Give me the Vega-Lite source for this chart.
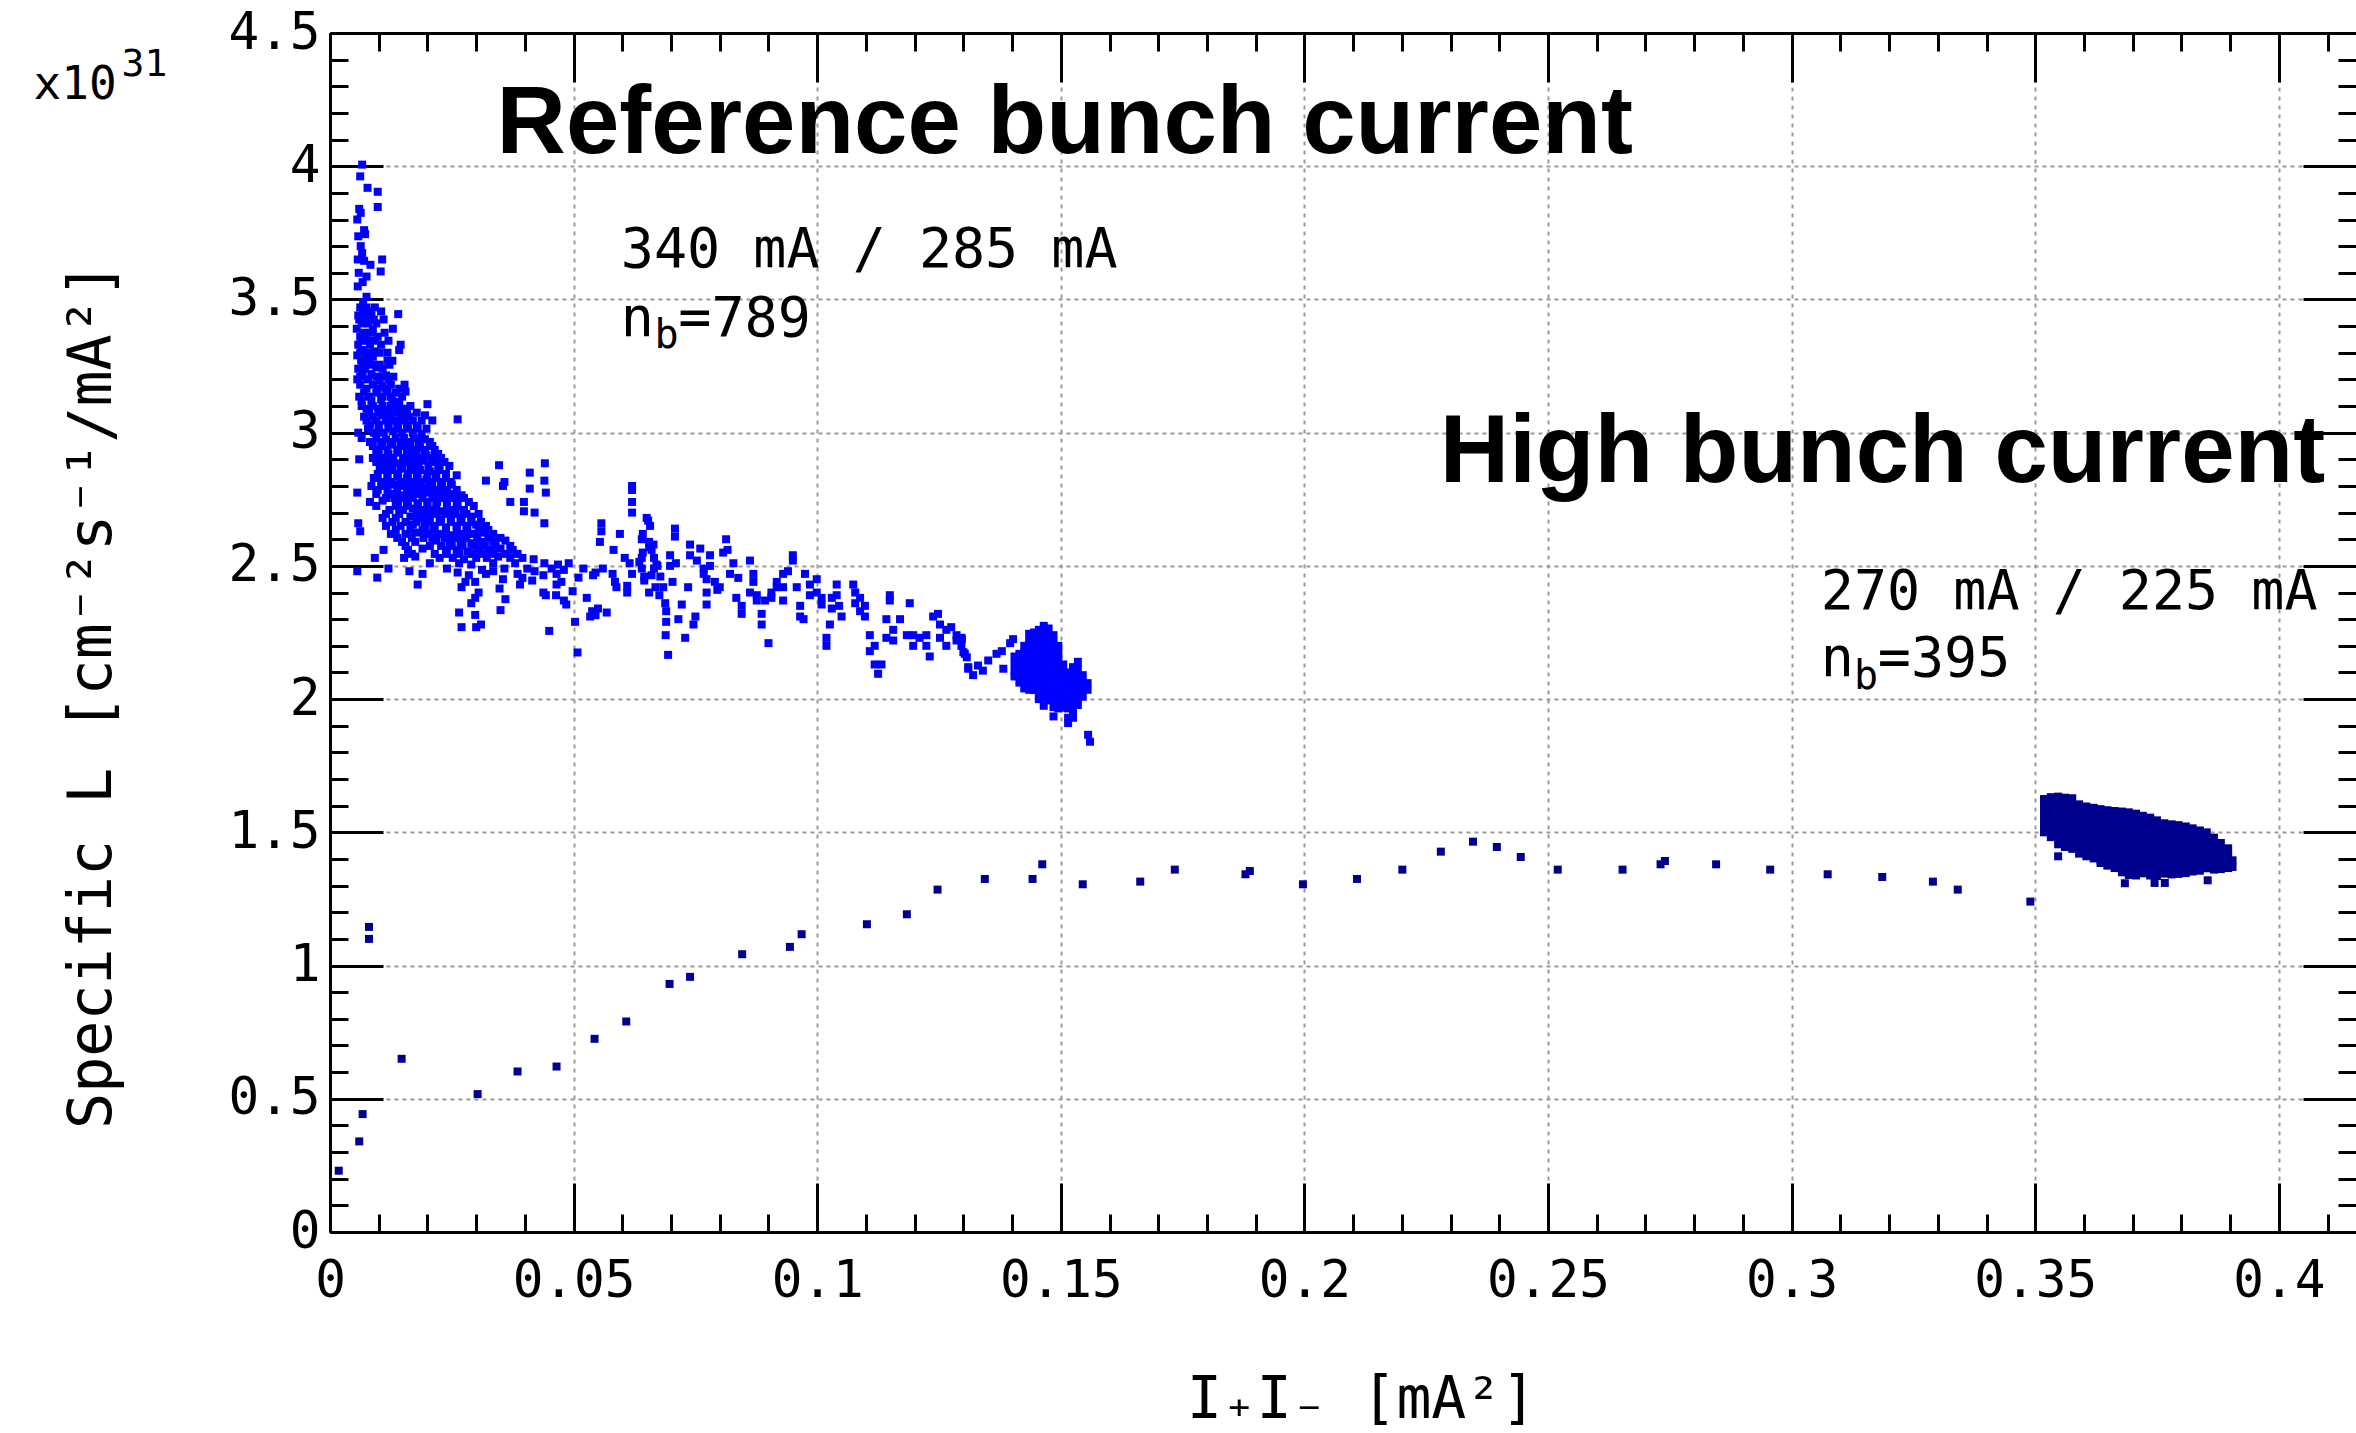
{
"$schema":"https://vega.github.io/schema/vega-lite/v6.json",
"width":2026,"height":1199,
"autosize":{"type":"none"},
"padding":{"left":330,"top":33,"right":0,"bottom":201},
"background":"white",
"config":{"view":{"stroke":null},"axis":{"labelFlush":false,"labelOverlap":false,"tickColor":"black","domainColor":"black","labelColor":"black","titleColor":"black","tickCap":"butt"}},
"resolve":{"scale":{"x":"shared","y":"shared"},"axis":{"x":"independent","y":"independent"}},
"datasets":{
"blue":[
{"x":0.0066,"y":4.006},{"x":0.0062,"y":3.962},{"x":0.0077,"y":3.919},{"x":0.0098,"y":3.904},{"x":0.0098,"y":3.847},{"x":0.006,"y":3.84},{"x":0.0063,"y":3.825},{"x":0.0056,"y":3.8},{"x":0.007,"y":3.76},{"x":0.0072,"y":3.745},{"x":0.0058,"y":3.737},{"x":0.0063,"y":3.7},{"x":0.0066,"y":3.674},{"x":0.0057,"y":3.65},{"x":0.007,"y":3.645},{"x":0.0083,"y":3.63},{"x":0.0107,"y":3.65},{"x":0.0104,"y":3.605},{"x":0.0059,"y":3.6},{"x":0.0075,"y":3.586},{"x":0.0057,"y":3.549},{"x":0.0067,"y":3.565},{"x":0.0075,"y":3.51},{"x":0.0068,"y":3.49},
{"x":0.0062,"y":3.47},{"x":0.0075,"y":3.47},{"x":0.0092,"y":3.47},
{"x":0.0058,"y":3.44},{"x":0.0068,"y":3.44},{"x":0.0085,"y":3.44},{"x":0.014,"y":3.445},
{"x":0.0065,"y":3.41},{"x":0.0078,"y":3.41},{"x":0.0095,"y":3.41},
{"x":0.0055,"y":3.39},{"x":0.0088,"y":3.385},{"x":0.0129,"y":3.39},
{"x":0.0062,"y":3.36},{"x":0.0072,"y":3.36},{"x":0.0098,"y":3.36},
{"x":0.0058,"y":3.33},{"x":0.0082,"y":3.33},{"x":0.0105,"y":3.33},{"x":0.0145,"y":3.33},
{"x":0.0066,"y":3.31},{"x":0.0092,"y":3.305},{"x":0.0142,"y":3.31},
{"x":0.0056,"y":3.29},{"x":0.0075,"y":3.29},{"x":0.0088,"y":3.285},
{"x":0.0064,"y":3.27},{"x":0.008,"y":3.265},{"x":0.0118,"y":3.27},{"x":0.0128,"y":3.27},
{"x":0.0058,"y":3.24},{"x":0.0072,"y":3.24},{"x":0.0095,"y":3.245},{"x":0.0108,"y":3.24},
{"x":0.0067,"y":3.22},{"x":0.0085,"y":3.22},{"x":0.0115,"y":3.215},
{"x":0.0056,"y":3.2},{"x":0.0078,"y":3.2},{"x":0.0102,"y":3.195},{"x":0.012,"y":3.2},
{"x":0.0062,"y":3.18},{"x":0.0088,"y":3.18},{"x":0.0108,"y":3.175},{"x":0.0125,"y":3.18},{"x":0.0153,"y":3.18},
{"x":0.007,"y":3.15},{"x":0.0095,"y":3.15},{"x":0.0118,"y":3.155},{"x":0.0135,"y":3.15},{"x":0.0155,"y":3.154},
{"x":0.0065,"y":3.12},{"x":0.0085,"y":3.12},{"x":0.0105,"y":3.125},{"x":0.0128,"y":3.12},{"x":0.0142,"y":3.115},
{"x":0.02,"y":3.107},
{"x":0.0075,"y":3.09},{"x":0.0098,"y":3.09},{"x":0.0115,"y":3.085},{"x":0.0132,"y":3.09},{"x":0.015,"y":3.09},
{"x":0.007,"y":3.06},{"x":0.0088,"y":3.06},{"x":0.0108,"y":3.065},{"x":0.0125,"y":3.06},{"x":0.0145,"y":3.06},{"x":0.0162,"y":3.06},{"x":0.0195,"y":3.065},
{"x":0.0262,"y":3.05},{"x":0.021,"y":3.046},
{"x":0.0082,"y":3.03},{"x":0.01,"y":3.03},{"x":0.012,"y":3.035},{"x":0.0138,"y":3.03},{"x":0.0158,"y":3.03},{"x":0.0178,"y":3.025},
{"x":0.0058,"y":3.0},{"x":0.009,"y":3.0},{"x":0.011,"y":3.0},{"x":0.013,"y":3.005},{"x":0.0148,"y":3.0},{"x":0.017,"y":3.0},{"x":0.0188,"y":2.995},
{"x":0.0065,"y":2.98},{"x":0.0095,"y":2.98},{"x":0.0115,"y":2.975},{"x":0.0135,"y":2.98},{"x":0.0152,"y":2.98},{"x":0.0172,"y":2.98},{"x":0.0195,"y":2.975},
{"x":0.0088,"y":2.95},{"x":0.0108,"y":2.95},{"x":0.0128,"y":2.955},{"x":0.0148,"y":2.95},{"x":0.0165,"y":2.95},{"x":0.0185,"y":2.945},{"x":0.021,"y":2.95},
{"x":0.01,"y":2.92},{"x":0.012,"y":2.92},{"x":0.014,"y":2.925},{"x":0.016,"y":2.92},{"x":0.0178,"y":2.92},{"x":0.0198,"y":2.915},{"x":0.0222,"y":2.92},
{"x":0.006,"y":2.9},
{"x":0.0095,"y":2.89},{"x":0.0115,"y":2.89},{"x":0.0135,"y":2.885},{"x":0.0155,"y":2.89},{"x":0.0175,"y":2.89},{"x":0.0192,"y":2.895},{"x":0.0215,"y":2.89},{"x":0.0235,"y":2.89},
{"x":0.0347,"y":2.878},{"x":0.0441,"y":2.885},
{"x":0.0108,"y":2.86},{"x":0.0128,"y":2.86},{"x":0.0148,"y":2.865},{"x":0.0168,"y":2.86},{"x":0.0185,"y":2.86},{"x":0.0205,"y":2.855},{"x":0.0225,"y":2.86},
{"x":0.041,"y":2.85},{"x":0.026,"y":2.84},
{"x":0.009,"y":2.83},{"x":0.0118,"y":2.83},{"x":0.0138,"y":2.835},{"x":0.0158,"y":2.83},{"x":0.0178,"y":2.83},{"x":0.0198,"y":2.825},{"x":0.0218,"y":2.83},{"x":0.0238,"y":2.83},
{"x":0.032,"y":2.82},{"x":0.0358,"y":2.815},{"x":0.044,"y":2.82},{"x":0.0355,"y":2.8},{"x":0.062,"y":2.8},
{"x":0.0085,"y":2.8},{"x":0.011,"y":2.8},{"x":0.013,"y":2.805},{"x":0.015,"y":2.8},{"x":0.017,"y":2.8},{"x":0.019,"y":2.795},{"x":0.021,"y":2.8},{"x":0.023,"y":2.8},{"x":0.025,"y":2.805},
{"x":0.041,"y":2.79},{"x":0.062,"y":2.785},{"x":0.0056,"y":2.775},{"x":0.0443,"y":2.775},
{"x":0.0095,"y":2.77},{"x":0.0125,"y":2.77},{"x":0.0145,"y":2.765},{"x":0.0165,"y":2.77},{"x":0.0185,"y":2.77},{"x":0.0205,"y":2.775},{"x":0.0225,"y":2.77},{"x":0.0245,"y":2.77},{"x":0.027,"y":2.765},
{"x":0.037,"y":2.74},{"x":0.0398,"y":2.74},{"x":0.062,"y":2.74},{"x":0.0082,"y":2.74},{"x":0.0108,"y":2.745},{"x":0.014,"y":2.74},{"x":0.016,"y":2.74},{"x":0.018,"y":2.735},{"x":0.02,"y":2.74},{"x":0.022,"y":2.74},{"x":0.024,"y":2.745},{"x":0.026,"y":2.74},{"x":0.0285,"y":2.74},
{"x":0.0122,"y":2.71},{"x":0.015,"y":2.71},{"x":0.017,"y":2.715},{"x":0.019,"y":2.71},{"x":0.021,"y":2.71},{"x":0.023,"y":2.705},{"x":0.025,"y":2.71},{"x":0.0275,"y":2.71},{"x":0.0398,"y":2.705},{"x":0.042,"y":2.7},{"x":0.062,"y":2.7},
{"x":0.0108,"y":2.68},{"x":0.0135,"y":2.68},{"x":0.0165,"y":2.685},{"x":0.0185,"y":2.68},{"x":0.0205,"y":2.68},{"x":0.0228,"y":2.675},{"x":0.0248,"y":2.68},{"x":0.0268,"y":2.68},{"x":0.029,"y":2.685},{"x":0.065,"y":2.68},
{"x":0.0058,"y":2.66},{"x":0.044,"y":2.66},{"x":0.0557,"y":2.66},{"x":0.0653,"y":2.67},
{"x":0.0115,"y":2.65},{"x":0.0145,"y":2.65},{"x":0.017,"y":2.655},{"x":0.0195,"y":2.65},{"x":0.0215,"y":2.65},{"x":0.0238,"y":2.645},{"x":0.026,"y":2.65},{"x":0.028,"y":2.65},{"x":0.03,"y":2.655},{"x":0.032,"y":2.65},
{"x":0.0062,"y":2.63},{"x":0.0557,"y":2.63},
{"x":0.0125,"y":2.62},{"x":0.0155,"y":2.62},{"x":0.018,"y":2.625},{"x":0.02,"y":2.62},{"x":0.0225,"y":2.62},{"x":0.025,"y":2.615},{"x":0.027,"y":2.62},{"x":0.0295,"y":2.62},{"x":0.0315,"y":2.625},{"x":0.0335,"y":2.62},{"x":0.0595,"y":2.62},
{"x":0.0148,"y":2.59},{"x":0.0175,"y":2.59},{"x":0.0218,"y":2.595},{"x":0.0245,"y":2.59},{"x":0.0268,"y":2.59},{"x":0.029,"y":2.585},{"x":0.031,"y":2.59},{"x":0.0335,"y":2.59},{"x":0.036,"y":2.595},{"x":0.0554,"y":2.59},{"x":0.0655,"y":2.59},
{"x":0.011,"y":2.56},{"x":0.016,"y":2.56},{"x":0.019,"y":2.565},{"x":0.0238,"y":2.56},{"x":0.026,"y":2.56},{"x":0.0282,"y":2.555},{"x":0.0305,"y":2.56},{"x":0.0328,"y":2.56},{"x":0.035,"y":2.565},{"x":0.0375,"y":2.56},{"x":0.0582,"y":2.56},{"x":0.066,"y":2.56},
{"x":0.0092,"y":2.53},{"x":0.0152,"y":2.53},{"x":0.0175,"y":2.535},{"x":0.0225,"y":2.53},{"x":0.0252,"y":2.53},{"x":0.0275,"y":2.525},{"x":0.03,"y":2.53},{"x":0.0322,"y":2.53},{"x":0.0345,"y":2.535},{"x":0.037,"y":2.53},{"x":0.0395,"y":2.53},{"x":0.0418,"y":2.525},{"x":0.0605,"y":2.53},{"x":0.0665,"y":2.53},
{"x":0.0205,"y":2.51},{"x":0.0265,"y":2.51},{"x":0.029,"y":2.505},{"x":0.0335,"y":2.51},{"x":0.038,"y":2.51},{"x":0.044,"y":2.51},{"x":0.0468,"y":2.505},{"x":0.049,"y":2.51},{"x":0.0615,"y":2.51},{"x":0.0635,"y":2.515},{"x":0.067,"y":2.505},
{"x":0.012,"y":2.49},{"x":0.024,"y":2.49},{"x":0.0312,"y":2.485},{"x":0.0358,"y":2.49},{"x":0.0405,"y":2.49},{"x":0.0455,"y":2.49},{"x":0.048,"y":2.485},{"x":0.052,"y":2.49},{"x":0.056,"y":2.49},{"x":0.064,"y":2.49},
{"x":0.0056,"y":2.48},{"x":0.0163,"y":2.48},{"x":0.0262,"y":2.475},{"x":0.0335,"y":2.48},{"x":0.042,"y":2.48},{"x":0.0545,"y":2.475},
{"x":0.019,"y":2.47},{"x":0.0285,"y":2.465},{"x":0.032,"y":2.47},{"x":0.0385,"y":2.47},{"x":0.0438,"y":2.465},{"x":0.0465,"y":2.47},{"x":0.054,"y":2.465},{"x":0.058,"y":2.47},{"x":0.062,"y":2.47},{"x":0.066,"y":2.465},
{"x":0.0097,"y":2.456},{"x":0.051,"y":2.456},{"x":0.0355,"y":2.45},{"x":0.0395,"y":2.455},
{"x":0.0278,"y":2.44},{"x":0.0298,"y":2.44},{"x":0.0415,"y":2.445},{"x":0.0475,"y":2.44},{"x":0.0585,"y":2.44},{"x":0.0645,"y":2.445},
{"x":0.018,"y":2.43},{"x":0.039,"y":2.43},{"x":0.0465,"y":2.43},{"x":0.061,"y":2.425},
{"x":0.027,"y":2.42},{"x":0.0348,"y":2.415},{"x":0.0588,"y":2.42},{"x":0.0668,"y":2.42},
{"x":0.0305,"y":2.4},{"x":0.0438,"y":2.4},{"x":0.061,"y":2.4},{"x":0.0655,"y":2.4},{"x":0.0498,"y":2.405},
{"x":0.0068,"y":3.455},{"x":0.0082,"y":3.455},{"x":0.0105,"y":3.455},
{"x":0.006,"y":3.425},{"x":0.0072,"y":3.425},{"x":0.009,"y":3.425},{"x":0.011,"y":3.425},
{"x":0.0068,"y":3.375},{"x":0.0082,"y":3.375},{"x":0.0112,"y":3.375},
{"x":0.0065,"y":3.345},{"x":0.0078,"y":3.345},{"x":0.009,"y":3.345},{"x":0.012,"y":3.345},
{"x":0.0062,"y":3.3},{"x":0.0082,"y":3.3},{"x":0.0102,"y":3.3},{"x":0.0118,"y":3.3},
{"x":0.0068,"y":3.255},{"x":0.0088,"y":3.255},{"x":0.0102,"y":3.255},{"x":0.0122,"y":3.255},
{"x":0.0062,"y":3.21},{"x":0.0095,"y":3.21},{"x":0.0108,"y":3.21},{"x":0.013,"y":3.21},
{"x":0.0075,"y":3.165},{"x":0.0098,"y":3.165},{"x":0.0115,"y":3.165},{"x":0.0142,"y":3.165},
{"x":0.006,"y":3.135},{"x":0.008,"y":3.135},{"x":0.0108,"y":3.135},{"x":0.0125,"y":3.135},{"x":0.0148,"y":3.135},
{"x":0.0065,"y":3.1},{"x":0.0088,"y":3.1},{"x":0.0108,"y":3.1},{"x":0.0125,"y":3.1},{"x":0.0142,"y":3.1},{"x":0.0165,"y":3.1},
{"x":0.008,"y":3.075},{"x":0.0102,"y":3.075},{"x":0.0122,"y":3.075},{"x":0.014,"y":3.075},{"x":0.0158,"y":3.075},{"x":0.0178,"y":3.075},
{"x":0.0075,"y":3.045},{"x":0.0095,"y":3.045},{"x":0.0115,"y":3.045},{"x":0.0135,"y":3.045},{"x":0.0152,"y":3.045},{"x":0.017,"y":3.045},{"x":0.0188,"y":3.045},
{"x":0.0078,"y":3.015},{"x":0.01,"y":3.015},{"x":0.012,"y":3.015},{"x":0.014,"y":3.015},{"x":0.016,"y":3.015},{"x":0.018,"y":3.015},{"x":0.0198,"y":3.015},
{"x":0.0082,"y":2.965},{"x":0.0105,"y":2.965},{"x":0.0125,"y":2.965},{"x":0.0145,"y":2.965},{"x":0.0162,"y":2.965},{"x":0.0182,"y":2.965},{"x":0.0205,"y":2.965},
{"x":0.0095,"y":2.935},{"x":0.0118,"y":2.935},{"x":0.0138,"y":2.935},{"x":0.0158,"y":2.935},{"x":0.0175,"y":2.935},{"x":0.0195,"y":2.935},{"x":0.0215,"y":2.935},
{"x":0.0088,"y":2.905},{"x":0.011,"y":2.905},{"x":0.013,"y":2.905},{"x":0.015,"y":2.905},{"x":0.017,"y":2.905},{"x":0.0188,"y":2.905},{"x":0.0208,"y":2.905},{"x":0.0228,"y":2.905},
{"x":0.0102,"y":2.875},{"x":0.0122,"y":2.875},{"x":0.0145,"y":2.875},{"x":0.0165,"y":2.875},{"x":0.0182,"y":2.875},{"x":0.0202,"y":2.875},{"x":0.0222,"y":2.875},{"x":0.0245,"y":2.875},
{"x":0.0098,"y":2.845},{"x":0.0118,"y":2.845},{"x":0.014,"y":2.845},{"x":0.016,"y":2.845},{"x":0.018,"y":2.845},{"x":0.02,"y":2.845},{"x":0.0218,"y":2.845},{"x":0.0238,"y":2.845},
{"x":0.0105,"y":2.815},{"x":0.0125,"y":2.815},{"x":0.0145,"y":2.815},{"x":0.0165,"y":2.815},{"x":0.0185,"y":2.815},{"x":0.0205,"y":2.815},{"x":0.0228,"y":2.815},{"x":0.0248,"y":2.815},
{"x":0.0098,"y":2.785},{"x":0.0118,"y":2.785},{"x":0.0138,"y":2.785},{"x":0.0158,"y":2.785},{"x":0.0178,"y":2.785},{"x":0.0198,"y":2.785},{"x":0.0218,"y":2.785},{"x":0.024,"y":2.785},{"x":0.026,"y":2.785},
{"x":0.0115,"y":2.755},{"x":0.0132,"y":2.755},{"x":0.0152,"y":2.755},{"x":0.017,"y":2.755},{"x":0.019,"y":2.755},{"x":0.021,"y":2.755},{"x":0.0232,"y":2.755},{"x":0.0255,"y":2.755},{"x":0.0275,"y":2.755},
{"x":0.0095,"y":2.725},{"x":0.0135,"y":2.725},{"x":0.0158,"y":2.725},{"x":0.018,"y":2.725},{"x":0.02,"y":2.725},{"x":0.0218,"y":2.725},{"x":0.024,"y":2.725},{"x":0.0262,"y":2.725},{"x":0.0295,"y":2.725},
{"x":0.0115,"y":2.695},{"x":0.0142,"y":2.695},{"x":0.0178,"y":2.695},{"x":0.0195,"y":2.695},{"x":0.0218,"y":2.695},{"x":0.0238,"y":2.695},{"x":0.0258,"y":2.695},{"x":0.028,"y":2.695},{"x":0.0305,"y":2.695},
{"x":0.0128,"y":2.665},{"x":0.0155,"y":2.665},{"x":0.0178,"y":2.665},{"x":0.02,"y":2.665},{"x":0.0225,"y":2.665},{"x":0.0248,"y":2.665},{"x":0.027,"y":2.665},{"x":0.029,"y":2.665},{"x":0.031,"y":2.665},
{"x":0.0135,"y":2.635},{"x":0.0165,"y":2.635},{"x":0.019,"y":2.635},{"x":0.0212,"y":2.635},{"x":0.0238,"y":2.635},{"x":0.026,"y":2.635},{"x":0.0282,"y":2.635},{"x":0.0305,"y":2.635},{"x":0.0325,"y":2.635},
{"x":0.0138,"y":2.605},{"x":0.0168,"y":2.605},{"x":0.0192,"y":2.605},{"x":0.021,"y":2.605},{"x":0.0235,"y":2.605},{"x":0.0258,"y":2.605},{"x":0.028,"y":2.605},{"x":0.0302,"y":2.605},{"x":0.0325,"y":2.605},{"x":0.035,"y":2.605},
{"x":0.0155,"y":2.575},{"x":0.0205,"y":2.575},{"x":0.0228,"y":2.575},{"x":0.025,"y":2.575},{"x":0.0272,"y":2.575},{"x":0.0295,"y":2.575},{"x":0.0318,"y":2.575},{"x":0.034,"y":2.575},{"x":0.037,"y":2.575},
{"x":0.0168,"y":2.545},{"x":0.0215,"y":2.545},{"x":0.024,"y":2.545},{"x":0.0265,"y":2.545},{"x":0.029,"y":2.545},{"x":0.0312,"y":2.545},{"x":0.0335,"y":2.545},{"x":0.036,"y":2.545},{"x":0.0385,"y":2.545},
{"x":0.029,"y":2.36},{"x":0.0298,"y":2.38},{"x":0.0265,"y":2.325},{"x":0.0298,"y":2.316},{"x":0.027,"y":2.27},{"x":0.03,"y":2.27},{"x":0.031,"y":2.28},{"x":0.035,"y":2.334},{"x":0.036,"y":2.375},{"x":0.045,"y":2.256},{"x":0.0443,"y":2.39},{"x":0.0464,"y":2.39},{"x":0.048,"y":2.37},{"x":0.0485,"y":2.355},{"x":0.0503,"y":2.29},{"x":0.0508,"y":2.175},{"x":0.0527,"y":2.38},{"x":0.0534,"y":2.31},{"x":0.0538,"y":2.33},{"x":0.055,"y":2.34},{"x":0.0568,"y":2.325},{"x":0.0545,"y":2.315},
{"x":0.064,"y":2.6},{"x":0.0655,"y":2.57},{"x":0.064,"y":2.53},{"x":0.0665,"y":2.49},{"x":0.0645,"y":2.46},
{"x":0.0657,"y":2.65},{"x":0.0664,"y":2.58},{"x":0.0642,"y":2.62},{"x":0.0642,"y":2.55},{"x":0.0672,"y":2.5},{"x":0.0678,"y":2.46},{"x":0.0684,"y":2.42},{"x":0.0676,"y":2.39},{"x":0.0688,"y":2.36},{"x":0.069,"y":2.33},{"x":0.069,"y":2.29},{"x":0.0689,"y":2.24},{"x":0.0694,"y":2.166},{"x":0.0698,"y":2.54},{"x":0.0698,"y":2.5},{"x":0.0708,"y":2.64},{"x":0.0708,"y":2.61},{"x":0.071,"y":2.51},{"x":0.0703,"y":2.44},{"x":0.0722,"y":2.355},{"x":0.0715,"y":2.3},{"x":0.0729,"y":2.23},{"x":0.0746,"y":2.28},{"x":0.075,"y":2.31},{"x":0.0739,"y":2.58},{"x":0.0739,"y":2.54},{"x":0.0735,"y":2.42},{"x":0.0753,"y":2.52},{"x":0.076,"y":2.565},{"x":0.0767,"y":2.49},{"x":0.0767,"y":2.47},{"x":0.078,"y":2.54},{"x":0.078,"y":2.5},{"x":0.0773,"y":2.45},{"x":0.0773,"y":2.4},{"x":0.0773,"y":2.355},{"x":0.079,"y":2.44},{"x":0.0795,"y":2.41},{"x":0.08,"y":2.42},{"x":0.0813,"y":2.6},{"x":0.0807,"y":2.55},{"x":0.0816,"y":2.56},{"x":0.0828,"y":2.51},{"x":0.0821,"y":2.47},{"x":0.0838,"y":2.455},{"x":0.0834,"y":2.38},{"x":0.0845,"y":2.35},{"x":0.0845,"y":2.32},{"x":0.0862,"y":2.52},{"x":0.0869,"y":2.47},{"x":0.0869,"y":2.44},{"x":0.0862,"y":2.4},{"x":0.0876,"y":2.39},{"x":0.0876,"y":2.37},{"x":0.0886,"y":2.32},{"x":0.0886,"y":2.28},{"x":0.09,"y":2.21},{"x":0.0893,"y":2.37},{"x":0.0906,"y":2.38},{"x":0.0906,"y":2.4},{"x":0.0917,"y":2.44},{"x":0.0917,"y":2.42},{"x":0.093,"y":2.47},{"x":0.093,"y":2.42},{"x":0.093,"y":2.37},{"x":0.094,"y":2.48},{"x":0.095,"y":2.54},{"x":0.095,"y":2.52},{"x":0.0958,"y":2.42},{"x":0.0965,"y":2.35},{"x":0.0965,"y":2.31},{"x":0.0972,"y":2.3},{"x":0.0975,"y":2.47},{"x":0.0985,"y":2.43},{"x":0.0985,"y":2.39},{"x":0.0999,"y":2.45},{"x":0.0999,"y":2.4},{"x":0.1009,"y":2.38},{"x":0.1009,"y":2.355},{"x":0.1019,"y":2.23},{"x":0.1019,"y":2.2},{"x":0.1026,"y":2.28},{"x":0.103,"y":2.38},{"x":0.103,"y":2.34},{"x":0.104,"y":2.43},{"x":0.104,"y":2.39},{"x":0.1045,"y":2.35},{"x":0.105,"y":2.31},{"x":0.1074,"y":2.43},{"x":0.1078,"y":2.4},{"x":0.1078,"y":2.36},{"x":0.1088,"y":2.38},{"x":0.1088,"y":2.33},{"x":0.1098,"y":2.35},{"x":0.1098,"y":2.31},{"x":0.1108,"y":2.24},{"x":0.1108,"y":2.18},{"x":0.1118,"y":2.2},{"x":0.1118,"y":2.13},{"x":0.1125,"y":2.095},{"x":0.1132,"y":2.13},{"x":0.1142,"y":2.23},{"x":0.1149,"y":2.39},{"x":0.1149,"y":2.37},{"x":0.1142,"y":2.3},{"x":0.1156,"y":2.26},{"x":0.1156,"y":2.22},{"x":0.117,"y":2.3},{"x":0.1184,"y":2.24},{"x":0.119,"y":2.36},{"x":0.1197,"y":2.24},{"x":0.1197,"y":2.2},{"x":0.121,"y":2.23},{"x":0.1224,"y":2.24},{"x":0.1224,"y":2.2},{"x":0.1231,"y":2.16},{"x":0.1238,"y":2.31},{"x":0.1248,"y":2.32},{"x":0.1252,"y":2.28},{"x":0.1252,"y":2.23},{"x":0.1265,"y":2.26},{"x":0.1265,"y":2.2},{"x":0.1275,"y":2.27},{"x":0.1286,"y":2.24},{"x":0.1286,"y":2.22},{"x":0.1296,"y":2.23},{"x":0.1296,"y":2.2},{"x":0.1303,"y":2.17},{"x":0.131,"y":2.12},
{"x":0.1297,"y":2.225},{"x":0.13,"y":2.176},{"x":0.1307,"y":2.157},{"x":0.131,"y":2.114},{"x":0.132,"y":2.09},{"x":0.133,"y":2.126},{"x":0.134,"y":2.107},{"x":0.1351,"y":2.145},{"x":0.1368,"y":2.17},{"x":0.1382,"y":2.114},{"x":0.1379,"y":2.18},{"x":0.1396,"y":2.21},{"x":0.1402,"y":2.225},
{"x":0.1405,"y":2.16},{"x":0.1405,"y":2.133},{"x":0.1405,"y":2.106},{"x":0.1405,"y":2.085},
{"x":0.1415,"y":2.17},{"x":0.1415,"y":2.143},{"x":0.1415,"y":2.116},{"x":0.1415,"y":2.089},{"x":0.1415,"y":2.062},
{"x":0.1425,"y":2.2},{"x":0.1425,"y":2.173},{"x":0.1425,"y":2.146},{"x":0.1425,"y":2.119},{"x":0.1425,"y":2.092},{"x":0.1425,"y":2.065},{"x":0.1425,"y":2.04},
{"x":0.1435,"y":2.245},{"x":0.1435,"y":2.218},{"x":0.1435,"y":2.191},{"x":0.1435,"y":2.164},{"x":0.1435,"y":2.137},{"x":0.1435,"y":2.11},{"x":0.1435,"y":2.083},{"x":0.1435,"y":2.056},{"x":0.1435,"y":2.035},
{"x":0.1445,"y":2.25},{"x":0.1445,"y":2.223},{"x":0.1445,"y":2.196},{"x":0.1445,"y":2.169},{"x":0.1445,"y":2.142},{"x":0.1445,"y":2.115},{"x":0.1445,"y":2.088},{"x":0.1445,"y":2.061},{"x":0.1445,"y":2.034},
{"x":0.1455,"y":2.26},{"x":0.1455,"y":2.233},{"x":0.1455,"y":2.206},{"x":0.1455,"y":2.179},{"x":0.1455,"y":2.152},{"x":0.1455,"y":2.125},{"x":0.1455,"y":2.098},{"x":0.1455,"y":2.071},{"x":0.1455,"y":2.044},{"x":0.1455,"y":2.017},{"x":0.1455,"y":2.0},
{"x":0.1465,"y":2.275},{"x":0.1465,"y":2.248},{"x":0.1465,"y":2.221},{"x":0.1465,"y":2.194},{"x":0.1465,"y":2.167},{"x":0.1465,"y":2.14},{"x":0.1465,"y":2.113},{"x":0.1465,"y":2.086},{"x":0.1465,"y":2.059},{"x":0.1465,"y":2.032},{"x":0.1465,"y":2.005},{"x":0.1465,"y":1.975},
{"x":0.1475,"y":2.265},{"x":0.1475,"y":2.238},{"x":0.1475,"y":2.211},{"x":0.1475,"y":2.184},{"x":0.1475,"y":2.157},{"x":0.1475,"y":2.13},{"x":0.1475,"y":2.103},{"x":0.1475,"y":2.076},{"x":0.1475,"y":2.049},{"x":0.1475,"y":2.022},{"x":0.1475,"y":1.995},
{"x":0.1485,"y":2.24},{"x":0.1485,"y":2.213},{"x":0.1485,"y":2.186},{"x":0.1485,"y":2.159},{"x":0.1485,"y":2.132},{"x":0.1485,"y":2.105},{"x":0.1485,"y":2.078},{"x":0.1485,"y":2.051},{"x":0.1485,"y":2.024},{"x":0.1485,"y":1.997},{"x":0.1485,"y":1.97},{"x":0.1485,"y":1.935},
{"x":0.1495,"y":2.2},{"x":0.1495,"y":2.173},{"x":0.1495,"y":2.146},{"x":0.1495,"y":2.119},{"x":0.1495,"y":2.092},{"x":0.1495,"y":2.065},{"x":0.1495,"y":2.038},{"x":0.1495,"y":2.011},{"x":0.1495,"y":1.984},{"x":0.1495,"y":1.965},
{"x":0.1505,"y":2.13},{"x":0.1505,"y":2.103},{"x":0.1505,"y":2.076},{"x":0.1505,"y":2.049},{"x":0.1505,"y":2.022},{"x":0.1505,"y":1.995},{"x":0.1505,"y":1.968},
{"x":0.1515,"y":2.1},{"x":0.1515,"y":2.073},{"x":0.1515,"y":2.046},{"x":0.1515,"y":2.019},{"x":0.1515,"y":1.992},{"x":0.1515,"y":1.965},{"x":0.1515,"y":1.93},{"x":0.1515,"y":1.91},
{"x":0.1525,"y":2.12},{"x":0.1525,"y":2.093},{"x":0.1525,"y":2.066},{"x":0.1525,"y":2.039},{"x":0.1525,"y":2.012},{"x":0.1525,"y":1.985},{"x":0.1525,"y":1.958},{"x":0.1525,"y":1.93},
{"x":0.1535,"y":2.14},{"x":0.1535,"y":2.113},{"x":0.1535,"y":2.086},{"x":0.1535,"y":2.059},{"x":0.1535,"y":2.032},{"x":0.1535,"y":2.005},{"x":0.1535,"y":1.978},
{"x":0.1545,"y":2.09},{"x":0.1545,"y":2.063},{"x":0.1545,"y":2.036},{"x":0.1545,"y":2.009},
{"x":0.1555,"y":2.06},{"x":0.1555,"y":2.035},{"x":0.1556,"y":1.866},{"x":0.156,"y":1.84}
],
"navy":[
{"x":0.0018,"y":0.23},{"x":0.006,"y":0.34},{"x":0.0067,"y":0.4425},{"x":0.008,"y":1.1},{"x":0.008,"y":1.145},{"x":0.0147,"y":0.65},{"x":0.0303,"y":0.5175},{"x":0.0385,"y":0.6025},{"x":0.0465,"y":0.621},{"x":0.0543,"y":0.725},{"x":0.0608,"y":0.79},{"x":0.0697,"y":0.931},{"x":0.0739,"y":0.9575},{"x":0.0846,"y":1.0425},{"x":0.0944,"y":1.07},{"x":0.0968,"y":1.1175},{"x":0.1102,"y":1.155},{"x":0.1184,"y":1.1925},{"x":0.1247,"y":1.285},{"x":0.1344,"y":1.325},{"x":0.1442,"y":1.325},{"x":0.1462,"y":1.38},{"x":0.1545,"y":1.305},{"x":0.1663,"y":1.315},{"x":0.1734,"y":1.36},{"x":0.1879,"y":1.3425},{"x":0.1888,"y":1.355},{"x":0.1997,"y":1.305},{"x":0.2108,"y":1.325},{"x":0.2201,"y":1.36},{"x":0.228,"y":1.4275},{"x":0.2346,"y":1.465},{"x":0.2395,"y":1.445},{"x":0.2444,"y":1.4075},{"x":0.252,"y":1.36},{"x":0.2653,"y":1.36},{"x":0.2731,"y":1.38},{"x":0.274,"y":1.3925},{"x":0.2845,"y":1.38},{"x":0.2956,"y":1.36},{"x":0.3074,"y":1.3425},{"x":0.3186,"y":1.3325},{"x":0.329,"y":1.315},{"x":0.3341,"y":1.285},{"x":0.349,"y":1.24},
{"x":0.3518,"y":1.625},{"x":0.3518,"y":1.598},{"x":0.3518,"y":1.572},{"x":0.3518,"y":1.545},{"x":0.3518,"y":1.52},{"x":0.3518,"y":1.5},
{"x":0.3532,"y":1.632},{"x":0.3532,"y":1.605},{"x":0.3532,"y":1.578},{"x":0.3532,"y":1.55},{"x":0.3532,"y":1.524},{"x":0.3532,"y":1.497},{"x":0.3532,"y":1.482},
{"x":0.3547,"y":1.634},{"x":0.3547,"y":1.607},{"x":0.3547,"y":1.58},{"x":0.3547,"y":1.553},{"x":0.3547,"y":1.527},{"x":0.3547,"y":1.5},{"x":0.3547,"y":1.472},{"x":0.3547,"y":1.455},{"x":0.3547,"y":1.41},
{"x":0.3561,"y":1.63},{"x":0.3561,"y":1.603},{"x":0.3561,"y":1.576},{"x":0.3561,"y":1.549},{"x":0.3561,"y":1.522},{"x":0.3561,"y":1.495},{"x":0.3561,"y":1.468},{"x":0.3561,"y":1.445},
{"x":0.3576,"y":1.628},{"x":0.3576,"y":1.6},{"x":0.3576,"y":1.573},{"x":0.3576,"y":1.546},{"x":0.3576,"y":1.519},{"x":0.3576,"y":1.492},{"x":0.3576,"y":1.465},{"x":0.3576,"y":1.438},
{"x":0.359,"y":1.605},{"x":0.359,"y":1.578},{"x":0.359,"y":1.551},{"x":0.359,"y":1.524},{"x":0.359,"y":1.497},{"x":0.359,"y":1.47},{"x":0.359,"y":1.443},{"x":0.359,"y":1.42},
{"x":0.3605,"y":1.597},{"x":0.3605,"y":1.57},{"x":0.3605,"y":1.543},{"x":0.3605,"y":1.516},{"x":0.3605,"y":1.489},{"x":0.3605,"y":1.462},{"x":0.3605,"y":1.435},{"x":0.3605,"y":1.41},
{"x":0.362,"y":1.592},{"x":0.362,"y":1.565},{"x":0.362,"y":1.538},{"x":0.362,"y":1.511},{"x":0.362,"y":1.484},{"x":0.362,"y":1.457},{"x":0.362,"y":1.43},{"x":0.362,"y":1.402},
{"x":0.3634,"y":1.587},{"x":0.3634,"y":1.56},{"x":0.3634,"y":1.533},{"x":0.3634,"y":1.506},{"x":0.3634,"y":1.479},{"x":0.3634,"y":1.452},{"x":0.3634,"y":1.425},{"x":0.3634,"y":1.398},{"x":0.3634,"y":1.385},
{"x":0.3648,"y":1.583},{"x":0.3648,"y":1.556},{"x":0.3648,"y":1.529},{"x":0.3648,"y":1.502},{"x":0.3648,"y":1.475},{"x":0.3648,"y":1.448},{"x":0.3648,"y":1.421},{"x":0.3648,"y":1.394},{"x":0.3648,"y":1.375},
{"x":0.3663,"y":1.58},{"x":0.3663,"y":1.553},{"x":0.3663,"y":1.526},{"x":0.3663,"y":1.499},{"x":0.3663,"y":1.472},{"x":0.3663,"y":1.445},{"x":0.3663,"y":1.418},{"x":0.3663,"y":1.391},{"x":0.3663,"y":1.366},
{"x":0.3678,"y":1.578},{"x":0.3678,"y":1.551},{"x":0.3678,"y":1.524},{"x":0.3678,"y":1.497},{"x":0.3678,"y":1.47},{"x":0.3678,"y":1.443},{"x":0.3678,"y":1.416},{"x":0.3678,"y":1.389},{"x":0.3678,"y":1.362},{"x":0.3678,"y":1.35},
{"x":0.3692,"y":1.575},{"x":0.3692,"y":1.548},{"x":0.3692,"y":1.521},{"x":0.3692,"y":1.494},{"x":0.3692,"y":1.467},{"x":0.3692,"y":1.44},{"x":0.3692,"y":1.413},{"x":0.3692,"y":1.386},{"x":0.3692,"y":1.359},{"x":0.3692,"y":1.34},{"x":0.3684,"y":1.309},
{"x":0.3707,"y":1.57},{"x":0.3707,"y":1.543},{"x":0.3707,"y":1.516},{"x":0.3707,"y":1.489},{"x":0.3707,"y":1.462},{"x":0.3707,"y":1.435},{"x":0.3707,"y":1.408},{"x":0.3707,"y":1.381},{"x":0.3707,"y":1.354},{"x":0.3707,"y":1.338},
{"x":0.3721,"y":1.562},{"x":0.3721,"y":1.535},{"x":0.3721,"y":1.508},{"x":0.3721,"y":1.481},{"x":0.3721,"y":1.454},{"x":0.3721,"y":1.427},{"x":0.3721,"y":1.4},{"x":0.3721,"y":1.373},{"x":0.3721,"y":1.346},
{"x":0.3736,"y":1.555},{"x":0.3736,"y":1.528},{"x":0.3736,"y":1.501},{"x":0.3736,"y":1.474},{"x":0.3736,"y":1.447},{"x":0.3736,"y":1.42},{"x":0.3736,"y":1.393},{"x":0.3736,"y":1.366},{"x":0.3736,"y":1.338},{"x":0.3745,"y":1.31},
{"x":0.375,"y":1.545},{"x":0.375,"y":1.518},{"x":0.375,"y":1.491},{"x":0.375,"y":1.464},{"x":0.375,"y":1.437},{"x":0.375,"y":1.41},{"x":0.375,"y":1.383},{"x":0.375,"y":1.356},{"x":0.375,"y":1.336},
{"x":0.3765,"y":1.534},{"x":0.3765,"y":1.507},{"x":0.3765,"y":1.48},{"x":0.3765,"y":1.453},{"x":0.3765,"y":1.426},{"x":0.3765,"y":1.399},{"x":0.3765,"y":1.372},{"x":0.3765,"y":1.345},{"x":0.3766,"y":1.31},
{"x":0.378,"y":1.53},{"x":0.378,"y":1.503},{"x":0.378,"y":1.476},{"x":0.378,"y":1.449},{"x":0.378,"y":1.422},{"x":0.378,"y":1.395},{"x":0.378,"y":1.368},{"x":0.378,"y":1.342},
{"x":0.3794,"y":1.527},{"x":0.3794,"y":1.5},{"x":0.3794,"y":1.473},{"x":0.3794,"y":1.446},{"x":0.3794,"y":1.419},{"x":0.3794,"y":1.392},{"x":0.3794,"y":1.365},{"x":0.3794,"y":1.344},
{"x":0.3809,"y":1.522},{"x":0.3809,"y":1.495},{"x":0.3809,"y":1.468},{"x":0.3809,"y":1.441},{"x":0.3809,"y":1.414},{"x":0.3809,"y":1.387},{"x":0.3809,"y":1.36},{"x":0.3809,"y":1.347},
{"x":0.3823,"y":1.515},{"x":0.3823,"y":1.488},{"x":0.3823,"y":1.461},{"x":0.3823,"y":1.434},{"x":0.3823,"y":1.407},{"x":0.3823,"y":1.38},{"x":0.3823,"y":1.353},
{"x":0.3838,"y":1.507},{"x":0.3838,"y":1.48},{"x":0.3838,"y":1.453},{"x":0.3838,"y":1.426},{"x":0.3838,"y":1.399},{"x":0.3838,"y":1.372},{"x":0.3838,"y":1.356},
{"x":0.3852,"y":1.5},{"x":0.3852,"y":1.473},{"x":0.3852,"y":1.446},{"x":0.3852,"y":1.419},{"x":0.3852,"y":1.392},{"x":0.3852,"y":1.365},{"x":0.3854,"y":1.32},
{"x":0.3867,"y":1.48},{"x":0.3867,"y":1.453},{"x":0.3867,"y":1.426},{"x":0.3867,"y":1.399},{"x":0.3867,"y":1.372},{"x":0.3867,"y":1.36},
{"x":0.3881,"y":1.46},{"x":0.3881,"y":1.433},{"x":0.3881,"y":1.406},{"x":0.3881,"y":1.379},{"x":0.3881,"y":1.362},
{"x":0.3896,"y":1.44},{"x":0.3896,"y":1.413},{"x":0.3896,"y":1.386},{"x":0.3896,"y":1.366},
{"x":0.3905,"y":1.395},{"x":0.3905,"y":1.37}
],
"big":[{"x":0.0342,"y":4.05,"t":"Reference bunch current"},{"x":0.2278,"y":2.816,"t":"High bunch current"}],
"mono":[{"x":0.0597,"y":3.62,"t":"340 mA / 285 mA"},{"x":0.0597,"y":3.363,"t":"n"},{"x":0.0715,"y":3.363,"t":"=789"},{"x":0.306,"y":2.34,"t":"270 mA / 225 mA"},{"x":0.306,"y":2.088,"t":"n"},{"x":0.3177,"y":2.088,"t":"=395"}],
"sub":[{"x":0.0666,"y":3.316,"t":"b"},{"x":0.3128,"y":2.037,"t":"b"}]
},
"layer":[
{"data":{"name":"blue"},
 "mark":{"type":"point","shape":"square","filled":true,"size":64,"color":"#0000ff","opacity":1,"strokeWidth":0},
 "encoding":{
  "x":{"field":"x","type":"quantitative","scale":{"domain":[0,0.41584],"nice":false,"zero":false},
   "axis":{"orient":"bottom","values":[0,0.05,0.1,0.15,0.2,0.25,0.3,0.35,0.4],"format":"~g","tickSize":-49,"tickWidth":3,"domain":true,"domainWidth":3,"grid":true,"gridColor":"#9a9a9a","gridWidth":2,"gridDash":[4,5],"labels":true,"labelFont":"DejaVu Sans Mono","labelFontSize":51,"labelPadding":73,"labelBaseline":"top","labelAlign":"center","title":"I₊I₋ [mA²]","titleFont":"DejaVu Sans Mono","titleFontSize":58,"titleFontWeight":"normal","titleX":1031,"titleY":185,"titleAlign":"center","titleBaseline":"alphabetic","titleAngle":0}},
  "y":{"field":"y","type":"quantitative","scale":{"domain":[0,4.5],"nice":false,"zero":false},
   "axis":{"orient":"left","values":[0,0.5,1,1.5,2,2.5,3,3.5,4,4.5],"format":"~g","tickSize":-53,"tickWidth":3,"domain":true,"domainWidth":3,"grid":true,"gridColor":"#9a9a9a","gridWidth":2,"gridDash":[4,4],"labels":true,"labelFont":"DejaVu Sans Mono","labelFontSize":51,"labelPadding":63,"labelAlign":"right","labelBaseline":"middle","title":"Specific L [cm⁻²s⁻¹/mA²]","titleFont":"DejaVu Sans Mono","titleFontSize":60,"titleFontWeight":"normal","titleX":-220,"titleY":662,"titleAlign":"center","titleBaseline":"alphabetic","titleAngle":270}}
 }},
{"data":{"name":"navy"},
 "mark":{"type":"point","shape":"square","filled":true,"size":64,"color":"#00008f","opacity":1,"strokeWidth":0},
 "encoding":{
  "x":{"field":"x","type":"quantitative","scale":{"domain":[0,0.41584],"nice":false,"zero":false},
   "axis":{"orient":"top","values":[0,0.05,0.1,0.15,0.2,0.25,0.3,0.35,0.4],"tickSize":-49,"tickWidth":3,"domain":true,"domainWidth":3,"grid":false,"labels":false,"title":null}},
  "y":{"field":"y","type":"quantitative","scale":{"domain":[0,4.5],"nice":false,"zero":false},
   "axis":{"orient":"right","values":[0,0.5,1,1.5,2,2.5,3,3.5,4,4.5],"tickSize":-53,"tickWidth":3,"domain":false,"grid":false,"labels":false,"title":null}}
 }},
{"data":{"name":"big"},
 "mark":{"type":"text","align":"left","baseline":"alphabetic","font":"Liberation Sans","fontWeight":"bold","fontSize":96,"color":"black"},
 "encoding":{
  "x":{"field":"x","type":"quantitative","scale":{"domain":[0,0.41584],"nice":false,"zero":false},
   "axis":{"orient":"bottom","values":[0.01,0.02,0.03,0.04,0.06,0.07,0.08,0.09,0.11,0.12,0.13,0.14,0.16,0.17,0.18,0.19,0.21,0.22,0.23,0.24,0.26,0.27,0.28,0.29,0.31,0.32,0.33,0.34,0.36,0.37,0.38,0.39,0.41],"tickSize":-18,"tickWidth":3,"domain":false,"grid":false,"labels":false,"title":null}},
  "y":{"field":"y","type":"quantitative","scale":{"domain":[0,4.5],"nice":false,"zero":false},
   "axis":{"orient":"left","values":[0.1,0.2,0.3,0.4,0.6,0.7,0.8,0.9,1.1,1.2,1.3,1.4,1.6,1.7,1.8,1.9,2.1,2.2,2.3,2.4,2.6,2.7,2.8,2.9,3.1,3.2,3.3,3.4,3.6,3.7,3.8,3.9,4.1,4.2,4.3,4.4],"tickSize":-18,"tickWidth":3,"domain":false,"grid":false,"labels":false,"title":"x10","titleFont":"DejaVu Sans Mono","titleFontSize":46,"titleFontWeight":"normal","titleX":-297,"titleY":65,"titleAngle":0,"titleAlign":"left","titleBaseline":"alphabetic"}},
  "text":{"field":"t"}
 }},
{"data":{"name":"mono"},
 "mark":{"type":"text","align":"left","baseline":"alphabetic","font":"DejaVu Sans Mono","fontSize":55,"color":"black"},
 "encoding":{
  "x":{"field":"x","type":"quantitative","scale":{"domain":[0,0.41584],"nice":false,"zero":false},
   "axis":{"orient":"top","values":[0.01,0.02,0.03,0.04,0.06,0.07,0.08,0.09,0.11,0.12,0.13,0.14,0.16,0.17,0.18,0.19,0.21,0.22,0.23,0.24,0.26,0.27,0.28,0.29,0.31,0.32,0.33,0.34,0.36,0.37,0.38,0.39,0.41],"tickSize":-18,"tickWidth":3,"domain":false,"grid":false,"labels":false,"title":null}},
  "y":{"field":"y","type":"quantitative","scale":{"domain":[0,4.5],"nice":false,"zero":false},
   "axis":{"orient":"right","values":[0.1,0.2,0.3,0.4,0.6,0.7,0.8,0.9,1.1,1.2,1.3,1.4,1.6,1.7,1.8,1.9,2.1,2.2,2.3,2.4,2.6,2.7,2.8,2.9,3.1,3.2,3.3,3.4,3.6,3.7,3.8,3.9,4.1,4.2,4.3,4.4],"tickSize":-18,"tickWidth":3,"domain":false,"grid":false,"labels":false,"title":"31","titleFont":"DejaVu Sans Mono","titleFontSize":38,"titleFontWeight":"normal","titleX":-2235,"titleY":42,"titleAngle":0,"titleAlign":"left","titleBaseline":"alphabetic"}},
  "text":{"field":"t"}
 }},
{"data":{"name":"sub"},
 "mark":{"type":"text","align":"left","baseline":"alphabetic","font":"DejaVu Sans Mono","fontSize":40,"color":"black"},
 "encoding":{
  "x":{"field":"x","type":"quantitative","scale":{"domain":[0,0.41584],"nice":false,"zero":false},"axis":null},
  "y":{"field":"y","type":"quantitative","scale":{"domain":[0,4.5],"nice":false,"zero":false},"axis":null},
  "text":{"field":"t"}
 }}
]
}
